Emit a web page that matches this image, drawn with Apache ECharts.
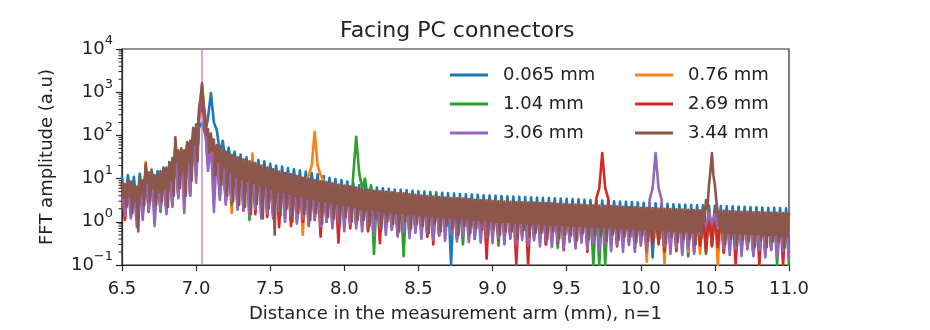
<!DOCTYPE html>
<html>
<head>
<meta charset="utf-8">
<script src="https://cdn.jsdelivr.net/npm/echarts@6/dist/echarts.min.js"></script>
<style>
  html, body { margin: 0; padding: 0; background: #ffffff; }
  #chart { width: 930px; height: 330px; }
</style>
</head>
<body>
<div id="chart"></div>
<script>
// Sampling grids of the distance axis (mm)
const X_START = 6.5;
const X_STEP = 0.02;        // 0.065 ... 3.06 mm traces
const X_STEP_FINE = 0.01;   // 3.44 mm trace
const X_MIN = 6.5;
const X_MAX = 11.0;
const X_INTERVAL = 0.5;

const Y_MIN = 0.1;
const Y_MAX = 10000;

// Position of the reference reflection (mm)
const referenceLine = 7.045;

const seriesNames = ['0.065 mm', '0.76 mm', '1.04 mm', '2.69 mm', '3.06 mm', '3.44 mm'];
const seriesColors = ['#1f77b4', '#ff7f0e', '#2ca02c', '#d62728', '#9467bd', '#8c564b'];

// FFT amplitude (a.u), one value per grid step
const amp0065 = [
  11, 2.5, 12, 3, 11, 2.2, 13, 3.5, 14, 2.8,
  16, 3, 15, 2.6, 18, 3.5, 24, 4, 32, 5,
  40, 6, 60, 9, 85, 16, 150, 200, 110, 250,
  950, 200, 130, 40, 75, 22, 52, 16, 42, 12,
  36, 8, 31, 6, 29, 7, 27, 4.5, 25, 6,
  22, 5, 20, 3.5, 19, 4.5, 17.5, 3, 16.5, 4,
  15.5, 3.2, 14.5, 2.5, 13.5, 3, 12.5, 1.8, 11.5, 2.6,
  10.5, 2.2, 9.8, 1.6, 9.2, 2, 8.6, 1.4, 8, 1.8,
  7, 1.5, 6.7, 1.2, 6.4, 1.6, 6.2, 1.1, 6, 1.4,
  5.8, 1.3, 5.6, 1, 5.5, 1.2, 5.4, 0.9, 5.2, 1.1,
  5.1, 1, 5, 0.8, 4.9, 1.05, 4.8, 0.75, 4.7, 0.95,
  4.6, 0.1, 4.5, 0.85, 4.4, 0.7, 4.35, 0.9, 4.3, 0.4,
  4.2, 0.8, 4.1, 0.65, 4.05, 0.85, 4, 0.6, 3.95, 0.75,
  3.9, 0.7, 3.85, 0.55, 3.8, 0.72, 3.75, 0.5, 3.7, 0.68,
  3.65, 0.62, 3.6, 0.3, 3.55, 0.65, 3.5, 0.48, 3.45, 0.6,
  3.4, 0.58, 3.35, 0.45, 3.3, 0.6, 3.25, 0.42, 3.2, 0.56,
  3.15, 0.52, 3.1, 0.4, 3.05, 0.55, 3, 0.38, 2.95, 0.5,
  2.9, 0.48, 2.85, 0.36, 2.8, 0.5, 2.75, 0.35, 2.7, 0.15,
  2.68, 0.44, 2.65, 0.33, 2.6, 0.45, 2.55, 0.3, 2.5, 0.42,
  2.48, 0.16, 2.45, 0.3, 2.42, 0.4, 2.4, 0.28, 2.38, 0.38,
  2.35, 0.36, 2.32, 0.26, 2.3, 0.37, 2.28, 0.25, 2.25, 0.35,
  2.22, 0.33, 2.2, 0.24, 2.18, 0.34, 2.15, 0.23, 2.12, 0.32,
  2.1, 0.3, 2.08, 0.22, 2.05, 0.3
];

const amp076 = [
  7, 1.2, 8, 2, 6.5, 1.5, 9, 1.8, 24, 2.5,
  14, 1.8, 11, 2.4, 13, 1.6, 20, 3, 70, 5,
  45, 3.5, 60, 6, 130, 18, 380, 1500, 260, 30,
  90, 9, 55, 6, 42, 3, 34, 1.6, 30, 2.5,
  26, 2.5, 24, 3, 38, 1.8, 20, 2.4, 17, 1.5,
  15, 1.4, 14, 2, 13, 1.2, 12, 1.7, 11, 1,
  10, 0.5, 9.5, 12, 20, 120, 20, 12, 9, 1.2,
  7.5, 1.2, 7, 0.8, 6.5, 1.3, 6.2, 1, 6, 1.1,
  5.4, 0.9, 5.1, 0.7, 4.9, 1, 4.8, 0.6, 4.6, 0.9,
  4.5, 0.8, 4.4, 0.55, 4.3, 0.85, 4.2, 0.6, 4, 0.75,
  3.9, 0.7, 3.8, 0.5, 3.7, 0.75, 3.6, 0.55, 3.5, 0.68,
  3.4, 0.62, 3.35, 0.45, 3.3, 0.65, 3.2, 0.5, 3.15, 0.6,
  3.1, 0.55, 3.05, 0.42, 3, 0.6, 2.95, 0.45, 2.9, 0.55,
  2.85, 0.5, 2.8, 0.4, 2.75, 0.52, 2.7, 0.4, 2.7, 0.5,
  2.65, 0.46, 2.6, 0.36, 2.6, 0.48, 2.55, 0.38, 2.5, 0.45,
  2.45, 0.42, 2.4, 0.34, 2.4, 0.45, 2.35, 0.35, 2.3, 0.42,
  2.3, 0.4, 2.25, 0.32, 2.25, 0.42, 2.2, 0.33, 2.15, 0.4,
  2.1, 0.38, 2.1, 0.3, 2.05, 0.4, 2, 0.12, 2, 0.36,
  1.95, 0.35, 1.9, 0.11, 1.9, 0.36, 1.85, 0.3, 1.85, 0.34,
  1.8, 0.2, 1.8, 0.33, 1.75, 0.18, 1.75, 0.32, 1.7, 0.3,
  1.7, 0.1, 1.68, 0.28, 1.65, 0.3, 1.65, 0.2, 1.62, 0.29,
  1.6, 0.27, 1.6, 0.18, 1.58, 0.28, 1.55, 0.17, 1.55, 0.26,
  1.52, 0.2, 1.5, 0.25, 1.5, 0.16
];

const amp104 = [
  7.5, 1.6, 8.5, 1.3, 6.8, 2.2, 9.5, 1.5, 18, 2.2,
  15, 2, 11.5, 1.7, 14, 2.5, 21, 2.8, 60, 4,
  46, 4.5, 65, 4, 120, 12, 300, 600, 200, 20,
  80, 6, 50, 4, 40, 3.5, 32, 2.5, 28, 3,
  25, 2, 23, 1.1, 21, 2.2, 19, 1.3, 16, 1.8,
  14.5, 1.6, 13.5, 1.2, 12.5, 1.7, 11.5, 1.1, 10.5, 1.5,
  9.8, 1.3, 9.2, 1, 8.8, 1.4, 8.5, 0.9, 8, 1.2,
  7.6, 1.1, 7.2, 0.8, 6.8, 1.2, 6.5, 0.9, 12, 93,
  14, 6, 10, 3, 7, 0.18, 5, 0.9, 4.8, 0.8,
  4.6, 0.75, 4.5, 0.6, 4.4, 0.16, 4.3, 0.65, 4.2, 0.7,
  4, 0.65, 3.9, 0.5, 3.8, 0.7, 3.7, 0.5, 3.6, 0.62,
  3.5, 0.6, 3.45, 0.45, 3.4, 0.3, 3.3, 0.48, 3.25, 0.55,
  3.2, 0.52, 3.15, 0.4, 3.1, 0.55, 3.05, 0.28, 3, 0.5,
  2.95, 0.48, 2.9, 0.36, 2.85, 0.5, 2.8, 0.38, 2.75, 0.45,
  2.7, 0.42, 2.7, 0.34, 2.65, 0.44, 2.6, 0.25, 2.55, 0.42,
  2.5, 0.4, 2.5, 0.32, 2.45, 0.42, 2.4, 0.34, 2.35, 0.1,
  2.3, 0.1, 2.3, 0.1, 2.25, 0.38, 2.2, 0.3, 2.2, 0.36,
  2.15, 0.35, 2.1, 0.28, 2.1, 0.36, 2.05, 0.27, 2, 0.34,
  2, 0.32, 1.95, 0.2, 1.95, 0.33, 1.9, 0.25, 1.9, 0.2,
  1.85, 0.3, 1.85, 0.24, 1.8, 0.3, 1.8, 0.18, 1.75, 0.28,
  1.75, 0.27, 1.72, 0.2, 1.7, 0.28, 1.7, 0.22, 1.68, 0.26,
  1.65, 0.25, 1.65, 0.17, 1.62, 0.26, 1.6, 0.2, 1.6, 0.24,
  1.58, 0.1, 1.55, 0.22, 1.55, 0.1
];

const amp269 = [
  6.5, 1.1, 7.5, 1.8, 6, 1.3, 8.5, 2, 16, 1.7,
  13, 1.5, 10.5, 2.1, 12.5, 1.9, 19, 2.5, 55, 3.8,
  42, 4, 58, 5, 110, 14, 280, 500, 180, 22,
  75, 5, 48, 4.5, 38, 3, 30, 2.8, 27, 2.2,
  24, 1.8, 22, 2.4, 20, 1.5, 18, 2, 15.5, 1.3,
  14, 1.2, 13, 0.75, 12, 1.4, 11, 0.8, 10, 1.2,
  9.5, 1, 9, 0.8, 8.5, 1.1, 8.2, 0.45, 7.8, 1,
  7.3, 0.9, 6.9, 0.33, 6.6, 1, 6.3, 0.7, 6, 0.9,
  5.2, 0.8, 5, 0.6, 4.8, 0.85, 4.7, 0.32, 4.5, 0.8,
  4.4, 0.7, 4.3, 0.5, 4.2, 0.72, 4.1, 0.5, 3.95, 0.65,
  3.85, 0.6, 3.75, 0.45, 3.65, 0.3, 3.55, 0.48, 3.45, 0.58,
  3.35, 0.55, 3.3, 0.4, 3.25, 0.56, 3.2, 0.42, 3.15, 0.5,
  3.1, 0.48, 3.05, 0.14, 3, 0.5, 2.95, 0.38, 2.9, 0.46,
  2.85, 0.44, 2.8, 0.1, 2.75, 0.45, 2.7, 0.1, 2.7, 0.42,
  2.65, 0.4, 2.6, 0.3, 2.6, 0.41, 2.55, 0.32, 2.5, 0.22,
  2.45, 0.38, 2.4, 0.28, 2.4, 0.38, 2.35, 0.2, 2.3, 0.36,
  3.5, 6, 39, 6, 3.5, 0.35, 2.2, 0.27, 2.15, 0.34,
  2.1, 0.32, 2.1, 0.25, 2.05, 0.33, 2, 0.24, 2, 0.31,
  1.95, 0.3, 1.9, 0.22, 1.9, 0.3, 1.85, 0.21, 1.85, 0.29,
  1.8, 0.28, 1.8, 0.2, 1.75, 0.28, 1.75, 0.2, 1.7, 0.27,
  1.7, 0.26, 1.68, 0.19, 1.65, 0.26, 1.65, 0.1, 1.62, 0.25,
  1.6, 0.24, 1.6, 0.18, 1.58, 0.1, 1.55, 0.2, 1.55, 0.23,
  1.52, 0.22, 1.5, 0.1, 1.5, 0.2
];

const amp306 = [
  7, 1.4, 8, 1.2, 6.5, 0.75, 9, 1.1, 15, 1.8,
  12.5, 0.8, 10, 2, 12, 1.5, 18, 2.2, 50, 3.5,
  40, 1.6, 55, 4, 100, 8, 260, 1000, 200, 15,
  70, 1.7, 45, 3.2, 36, 2.5, 29, 3, 25, 1.9,
  23, 1.9, 21, 1.4, 19, 2, 17, 1.2, 15, 1.6,
  13.5, 1.3, 12.5, 1.8, 11.5, 1, 10.5, 1.4, 9.8, 0.9,
  9.2, 1.2, 8.8, 0.85, 8.3, 1.1, 7.9, 0.8, 7.5, 1,
  7.1, 0.7, 6.7, 0.95, 6.4, 0.6, 6.1, 0.9, 5.8, 0.7,
  5.1, 0.6, 4.9, 0.8, 4.7, 0.5, 4.6, 0.75, 4.4, 0.5,
  4.3, 0.65, 4.2, 0.45, 4.1, 0.6, 4, 0.42, 3.85, 0.55,
  3.75, 0.4, 3.65, 0.55, 3.55, 0.38, 3.45, 0.52, 3.35, 0.36,
  3.3, 0.5, 3.25, 0.35, 3.2, 0.48, 3.1, 0.34, 3.05, 0.45,
  3, 0.33, 2.95, 0.44, 2.9, 0.32, 2.85, 0.42, 2.8, 0.3,
  2.75, 0.4, 2.7, 0.3, 2.7, 0.38, 2.65, 0.28, 2.6, 0.37,
  2.55, 0.27, 2.55, 0.36, 2.5, 0.26, 2.45, 0.35, 2.45, 0.25,
  2.4, 0.34, 2.35, 0.24, 2.35, 0.33, 2.3, 0.23, 2.25, 0.32,
  2.2, 0.22, 2.2, 0.3, 2.15, 0.21, 2.1, 0.3, 2.1, 0.2,
  2.05, 0.29, 2, 0.2, 2, 0.28, 1.95, 0.2, 3.3, 6,
  39, 6, 3.3, 0.27, 1.85, 0.18, 1.85, 0.26, 1.8, 0.17,
  1.8, 0.25, 1.75, 0.18, 1.75, 0.5, 1.7, 0.8, 1.6, 0.9,
  1.5, 0.7, 1.6, 0.24, 1.6, 0.17, 1.58, 0.24, 1.55, 0.16,
  1.55, 0.23, 1.52, 0.16, 1.5, 0.22, 1.5, 0.15, 1.48, 0.22,
  1.48, 0.15, 1.45, 0.21, 1.45, 0.14
];

// 3.44 mm trace on the fine grid (0.01 mm)
const amp344 = [
  8, 3.5, 7.5, 2.2, 9, 4, 8.5, 1.6, 7, 3, 6.5, 0.6, 10, 4.5, 9, 2.4, 22, 8, 14, 3,
  16, 6, 12, 2.5, 12, 5, 15, 3, 17, 6, 18, 2.2, 24, 9, 30, 4, 90, 25, 45, 6,
  50, 15, 45, 4, 70, 25, 75, 9, 150, 60, 180, 25, 420, 700, 1600, 500, 300, 100, 140, 40,
  110, 45, 80, 12, 60, 25, 55, 7, 45, 18, 42, 4, 38, 14, 35, 3, 32, 11, 31, 2.5,
  30, 10, 28, 2.2, 26, 9, 25, 1.5, 24, 8, 23, 2.6, 21, 7, 20, 1.2, 19, 6.5, 18, 2,
  17, 6, 16.5, 0.5, 15, 5, 14.5, 1.4, 14, 5, 13.5, 2, 13, 4.5, 12.5, 1, 12, 4, 11.5, 1.6,
  11, 4, 10.5, 1.5, 10, 3.5, 10, 1.1, 9.5, 3.5, 9.2, 1.6, 9, 3, 8.8, 0.9, 8.5, 3, 8.3, 1.3,
  8, 2.8, 7.8, 1.2, 7.5, 2.6, 7.3, 0.8, 7, 2.5, 6.9, 1.3, 6.8, 2.4, 6.6, 1, 6.5, 2.2, 6.2, 1.1,
  5.8, 2, 5.7, 1.1, 5.5, 1.9, 5.4, 0.8, 5.3, 1.9, 5.25, 1.2, 5.2, 1.8, 5.1, 0.7, 5, 1.7, 4.95, 1,
  4.9, 1.7, 4.8, 0.9, 4.7, 1.6, 4.65, 0.6, 4.6, 1.6, 4.55, 1, 4.5, 1.5, 4.4, 0.7, 4.3, 1.5, 4.2, 0.9,
  4.1, 1.4, 4.05, 0.8, 4, 1.4, 3.95, 0.55, 3.9, 1.35, 3.85, 0.9, 3.8, 1.3, 3.75, 0.6, 3.7, 1.3, 3.65, 0.8,
  3.6, 1.25, 3.55, 0.7, 3.5, 1.2, 3.5, 0.5, 3.5, 1.2, 3.45, 0.8, 3.4, 1.15, 3.35, 0.55, 3.3, 1.1, 3.25, 0.7,
  3.2, 1.1, 3.2, 0.65, 3.2, 1.1, 3.15, 0.45, 3.1, 1.05, 3.05, 0.7, 3, 1, 3, 0.5, 3, 1, 2.95, 0.6,
  2.9, 1, 2.9, 0.6, 2.9, 0.95, 2.88, 0.4, 2.85, 0.95, 2.82, 0.65, 2.8, 0.9, 2.8, 0.45, 2.8, 0.9, 2.78, 0.55,
  2.75, 0.9, 2.72, 0.55, 2.7, 0.88, 2.7, 0.4, 2.7, 0.88, 2.68, 0.6, 2.65, 0.85, 2.62, 0.42, 2.6, 0.85, 2.58, 0.5,
  2.55, 0.82, 2.52, 0.5, 2.5, 0.8, 2.5, 0.38, 2.5, 0.8, 2.48, 0.55, 2.45, 0.78, 2.42, 0.4, 2.4, 0.78, 2.4, 0.5,
  2.4, 0.76, 2.38, 0.48, 2.35, 0.75, 2.35, 0.36, 2.35, 0.74, 2.32, 0.5, 2.3, 0.72, 2.28, 0.38, 2.25, 0.72, 2.22, 0.45,
  2.2, 0.7, 2.2, 0.45, 2.2, 0.7, 2.18, 0.34, 2.15, 0.68, 2.12, 0.48, 2.1, 0.66, 2.1, 0.36, 2.1, 0.66, 2.08, 0.42,
  2.05, 0.65, 2.02, 0.42, 2, 0.64, 2, 0.32, 2, 0.63, 1.98, 0.45, 1.95, 0.62, 1.95, 0.34, 1.95, 0.6, 1.92, 0.4,
  1.9, 0.6, 1.9, 0.4, 1.9, 0.58, 1.88, 0.3, 1.85, 0.58, 1.85, 0.42, 2.2, 1, 3.2, 2, 7, 15, 39, 12,
  7, 3, 3.2, 0.8, 1.8, 0.56, 1.8, 0.3, 1.75, 0.55, 1.75, 0.4, 1.75, 0.54, 1.72, 0.28, 1.7, 0.54, 1.7, 0.38,
  1.7, 0.53, 1.7, 0.36, 1.68, 0.52, 1.66, 0.27, 1.65, 0.52, 1.65, 0.38, 1.65, 0.5, 1.63, 0.26, 1.62, 0.5, 1.62, 0.35,
  1.62, 0.5, 1.62, 0.34, 1.6, 0.48, 1.6, 0.25, 1.6, 0.48, 1.6
];

const seriesValues = [amp0065, amp076, amp104, amp269, amp306, amp344];
const seriesSteps = [X_STEP, X_STEP, X_STEP, X_STEP, X_STEP, X_STEP_FINE];

// Minor ticks of the log axis: 2..9 within every decade
const minorTickValues = [];
for (let e = -1; e < 4; e++) {
  for (let m = 2; m <= 9; m++) minorTickValues.push(m * Math.pow(10, e));
}

const FONT = 'DejaVu Sans';
const AXIS_COLOR = '#262626';
const LINE_WIDTH = 2.6;

function toPairs(values, step) {
  return values.map((v, i) => [+(X_START + i * step).toFixed(3), v]);
}

function powerLabel(value) {
  const exp = Math.round(Math.log10(value));
  const expText = exp < 0 ? '\u2212' + (-exp) : String(exp);
  return '{b|10}{e|' + expText + '}';
}

const chart = echarts.init(document.getElementById('chart'), null, { renderer: 'canvas' });

const lineSeries = seriesNames.map((name, k) => {
  const s = {
    name: name,
    type: 'line',
    data: toPairs(seriesValues[k], seriesSteps[k]),
    showSymbol: false,
    symbol: 'none',
    sampling: false,
    lineStyle: { color: seriesColors[k], width: LINE_WIDTH, join: 'round', cap: 'round' },
    itemStyle: { color: seriesColors[k] },
    emphasis: { disabled: true },
    animation: false,
    z: 2 + k
  };
  if (k === seriesNames.length - 1) {
    s.markLine = {
      silent: true,
      symbol: 'none',
      animation: false,
      label: { show: false },
      lineStyle: { color: '#c08ad4', width: 1.5, type: 'solid' },
      data: [{ xAxis: referenceLine }]
    };
  }
  return s;
});

const legendCommon = {
  orient: 'vertical',
  icon: 'rect',
  itemWidth: 38,
  itemHeight: 3,
  itemGap: 11,
  selectedMode: false,
  textStyle: { fontFamily: FONT, fontSize: 18, color: '#222', padding: [0, 0, 0, 10], lineHeight: 18 }
};

chart.setOption({
  animation: false,
  backgroundColor: '#ffffff',
  title: {
    text: 'Facing PC connectors',
    left: 335,
    top: 15,
    textStyle: { fontFamily: FONT, fontSize: 22, fontWeight: 'normal', color: '#222' }
  },
  legend: [
    Object.assign({}, legendCommon, { left: 445, top: 61, data: [seriesNames[0], seriesNames[2], seriesNames[4]] }),
    Object.assign({}, legendCommon, { left: 630, top: 61, data: [seriesNames[1], seriesNames[3], seriesNames[5]] })
  ],
  grid: {
    left: 122, right: 141, top: 49, bottom: 65,
    show: true, borderColor: AXIS_COLOR, borderWidth: 1.2, backgroundColor: 'transparent'
  },
  xAxis: {
    type: 'value',
    min: X_MIN, max: X_MAX, interval: X_INTERVAL,
    name: 'Distance in the measurement arm (mm), n=1',
    nameLocation: 'middle',
    nameGap: 40,
    nameTextStyle: { fontFamily: FONT, fontSize: 18, color: '#222' },
    axisLine: { show: true, onZero: false, lineStyle: { color: AXIS_COLOR, width: 1.2 } },
    axisTick: { show: true, inside: false, length: 6, lineStyle: { color: AXIS_COLOR, width: 1.2 } },
    axisLabel: { fontFamily: FONT, fontSize: 18, color: '#222', margin: 15, formatter: v => v.toFixed(1) },
    splitLine: { show: false }
  },
  yAxis: {
    type: 'log',
    logBase: 10,
    min: Y_MIN, max: Y_MAX,
    name: 'FFT amplitude (a.u)',
    nameLocation: 'middle',
    nameGap: 66,
    nameTextStyle: { fontFamily: FONT, fontSize: 18, color: '#222' },
    axisLine: { show: true, lineStyle: { color: AXIS_COLOR, width: 1.2 } },
    axisTick: { show: true, inside: false, length: 6, lineStyle: { color: AXIS_COLOR, width: 1.2 } },
    axisLabel: {
      margin: 9,
      formatter: powerLabel,
      rich: {
        b: { fontFamily: FONT, fontSize: 18, color: '#222', lineHeight: 18 },
        e: { fontFamily: FONT, fontSize: 13, color: '#222', lineHeight: 13, padding: [0, 0, 16, 0] }
      }
    },
    splitLine: { show: false }
  },
  series: lineSeries.concat([{
    type: 'custom',
    silent: true,
    animation: false,
    clip: false,
    z: 20,
    data: minorTickValues.map(v => [X_MIN, v]),
    encode: { x: 0, y: 1 },
    renderItem: function (params, api) {
      const p = api.coord([api.value(0), api.value(1)]);
      return {
        type: 'line',
        shape: { x1: p[0] - 3.5, y1: p[1], x2: p[0], y2: p[1] },
        style: { stroke: AXIS_COLOR, lineWidth: 1 }
      };
    }
  }])
});
</script>
</body>
</html>
